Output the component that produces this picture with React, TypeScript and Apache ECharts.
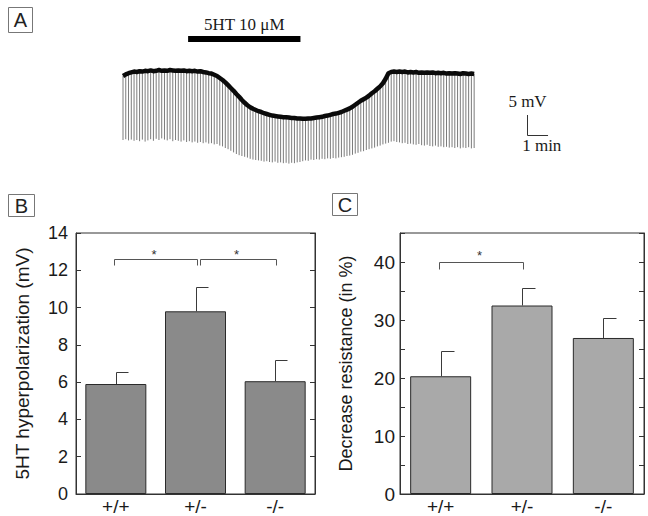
import React, { useEffect, useRef } from 'react';
import * as echarts from 'echarts';

// ---------------- Panel B / C data ----------------
const genotypes = ['+/+', '+/-', '-/-'];
const hyperpolarizationMean = [5.9, 9.8, 6.05];
const hyperpolarizationSem = [0.65, 1.3, 1.15];
const resistanceDecreaseMean = [20.3, 32.5, 26.9];
const resistanceDecreaseSem = [4.4, 3.1, 3.5];
// significance brackets: [fromCategory, toCategory, level]
const hyperpolarizationBrackets = [[0, 1, 12.6], [1, 2, 12.6]];
const resistanceBrackets = [[0, 1, 40]];
const hyperpolarizationTicks = { min: 0, max: 14, interval: 2 };
const resistanceTicks = { min: 0, max: 45, interval: 5, labelEvery: 10 };

// ---------------- Panel A trace data ----------------
const PULSE_INTERVAL_S = 7.9;
// membrane potential (mV, relative to rest) just before each current pulse
const pulseTopMV = [
  -1.0, -0.6, -0.3, -0.1, 0.1, 0.0, 0.2, 0.1, 0.3, 0.2,
  0.4, 0.2, 0.3, 0.5, 0.3, 0.4, 0.3, 0.5, 0.4, 0.3,
  0.4, 0.3, 0.4, 0.2, 0.3, 0.2, 0.3, 0.1, 0.2, 0.0,
  -0.1, -0.3, -0.4, -0.7, -1.0, -1.5, -2.0, -2.6, -3.3, -4.0,
  -4.7, -5.5, -6.2, -7.0, -7.7, -8.3, -8.8, -9.2, -9.5, -9.8,
  -10.0, -10.3, -10.5, -10.7, -10.9, -11.0, -11.1, -11.2, -11.3, -11.3,
  -11.4, -11.5, -11.5, -11.6, -11.6, -11.7, -11.7, -11.6, -11.6, -11.5,
  -11.4, -11.3, -11.2, -11.0, -10.9, -10.7, -10.5, -10.4, -10.2, -10.0,
  -9.7, -9.4, -9.1, -8.7, -8.2, -7.7, -7.2, -6.8, -6.4, -5.9,
  -5.3, -4.8, -4.2, -3.6, -2.8, -1.7, -0.3, 0.0, 0.1, 0.0,
  0.1, 0.0, 0.1, -0.1, 0.0, -0.1, 0.0, -0.2, -0.1, -0.2,
  -0.1, -0.2, -0.1, -0.3, -0.2, -0.3, -0.2, -0.4, -0.3, -0.4,
  -0.3, -0.4, -0.5, -0.3, -0.4, -0.5, -0.4, -0.5,
];
// peak of each hyperpolarizing pulse (mV, relative to rest)
const pulseBottomMV = [
  -17.0, -16.8, -17.1, -16.9, -17.2, -17.0, -17.3, -16.9, -17.4, -17.1,
  -16.8, -17.2, -16.7, -17.0, -16.6, -16.9, -17.1, -16.8, -17.3, -17.0,
  -17.2, -17.4, -17.1, -17.5, -17.3, -17.6, -17.4, -17.7, -17.5, -17.8,
  -17.6, -17.9, -17.8, -18.1, -18.0, -18.4, -18.6, -19.0, -19.3, -19.7,
  -20.1, -20.5, -20.8, -21.0, -21.2, -21.4, -21.7, -21.9, -22.0, -22.1,
  -22.2, -22.4, -22.3, -22.5, -22.6, -22.4, -22.7, -22.6, -22.8, -22.7,
  -22.9, -22.7, -22.8, -22.6, -22.5, -22.3, -22.1, -22.2, -21.9, -22.0,
  -21.8, -21.9, -21.7, -21.8, -21.6, -21.7, -21.5, -21.6, -21.4, -21.3,
  -21.2, -21.0, -20.9, -20.7, -20.4, -20.2, -19.9, -19.8, -19.5, -19.3,
  -19.1, -18.9, -18.6, -18.4, -18.1, -17.9, -17.7, -17.4, -17.3, -17.5,
  -17.6, -17.8, -17.7, -18.0, -17.9, -18.1, -18.2, -18.0, -18.3, -18.4,
  -18.2, -18.5, -18.6, -18.4, -18.7, -18.6, -18.8, -18.7, -18.9, -18.8,
  -19.0, -18.8, -19.1, -18.9, -19.0, -18.8, -19.1, -19.0,
];
const drugWindowMin = [3.1, 8.45];
const drugLabel = '5HT 10 \u03bcM';
const scaleBarMV = 5;
const scaleBarMin = 1;

// ---------------- layout / style constants ----------------
const SERIF = "'Liberation Serif', 'DejaVu Serif', serif";
const SANS = "'Liberation Sans', Arial, sans-serif";
const DRUG_BAR_LEVEL_MV = 8.25;
const SCALE_BAR_ORIGIN = [19.24, -15.75];
const INK = '#1a1a1a';
const FRAME = '#333333';

function txt(text: string, x: number, y: number, size: number, family: string, align: string, valign: string, fill = INK) {
  return {
    type: 'text',
    style: {
      text, x, y, fill,
      font: `${size}px ${family}`,
      fontSize: size, fontFamily: family,
      align, textAlign: align, verticalAlign: valign, textVerticalAlign: valign,
    },
  };
}

function renderSpike(_p: any, api: any) {
  const t = api.value(0);
  const a = api.coord([t, api.value(1)]);
  const b = api.coord([t, api.value(2)]);
  return {
    type: 'line',
    shape: { x1: a[0], y1: a[1], x2: a[0], y2: b[1] },
    style: { stroke: '#7c7c7c', lineWidth: 1 },
  };
}

function renderDrug(_p: any, api: any) {
  const a = api.coord([api.value(0), DRUG_BAR_LEVEL_MV]);
  const b = api.coord([api.value(1), DRUG_BAR_LEVEL_MV]);
  return {
    type: 'group',
    children: [
      { type: 'rect', shape: { x: a[0], y: a[1] - 3, width: b[0] - a[0], height: 6 }, style: { fill: '#000' } },
      txt(drugLabel, (a[0] + b[0]) / 2, a[1] - 6, 17, SERIF, 'center', 'bottom'),
    ],
  };
}

function renderScale(_p: any, api: any) {
  const t0 = api.value(0);
  const v0 = api.value(1);
  const top = api.coord([t0, v0 + scaleBarMV]);
  const corner = api.coord([t0, v0]);
  const right = api.coord([t0 + scaleBarMin, v0]);
  const cx = Math.round(corner[0]) + 0.5;
  const cy = Math.round(corner[1]) + 0.5;
  return {
    type: 'group',
    children: [
      {
        type: 'polyline',
        shape: { points: [[cx, top[1]], [cx, cy], [right[0], cy]] },
        style: { stroke: FRAME, lineWidth: 1, fill: null },
      },
      txt(`${scaleBarMV} mV`, cx, top[1] - 5, 17, SERIF, 'center', 'bottom'),
      txt(`${scaleBarMin} min`, (cx + right[0]) / 2 + 4, cy + 1, 17, SERIF, 'center', 'top'),
    ],
  };
}

function makeErrorRender(capPx: number) {
  return (_p: any, api: any) => {
    const i = api.value(0);
    const base = api.coord([i, api.value(1)]);
    const top = api.coord([i, api.value(2)]);
    const x = Math.round(base[0]) + 0.5;
    const yTop = Math.round(top[1]) + 0.5;
    return {
      type: 'group',
      children: [
        { type: 'line', shape: { x1: x, y1: base[1], x2: x, y2: yTop }, style: { stroke: '#3a3a3a', lineWidth: 1 } },
        { type: 'line', shape: { x1: x, y1: yTop, x2: x + capPx, y2: yTop }, style: { stroke: '#3a3a3a', lineWidth: 1 } },
      ],
    };
  };
}

function makeBracketRender(dropPx: number, starLift: number) {
  return (_p: any, api: any) => {
    const from = api.value(0);
    const to = api.value(1);
    const lvl = api.value(2);
    const a = api.coord([from, lvl]);
    const b = api.coord([to, lvl]);
    const x0 = Math.round(a[0] - 2 + (from > 0 ? 6.5 : 0)) + 0.5;
    const x1 = Math.round(b[0] + 1) + 0.5;
    const y = Math.round(a[1]) + 0.5;
    return {
      type: 'group',
      children: [
        {
          type: 'polyline',
          shape: { points: [[x0, y + dropPx], [x0, y], [x1, y], [x1, y + dropPx]] },
          style: { stroke: '#555', lineWidth: 1, fill: null },
        },
        txt('*', (x0 + x1) / 2 - 2, y - starLift, 13, SANS, 'center', 'middle', '#333'),
      ],
    };
  };
}

function valueAxis(grid: number, ticks: any, opts: any) {
  return {
    gridIndex: grid,
    type: 'value',
    min: ticks.min,
    max: ticks.max,
    interval: ticks.interval,
    splitLine: { show: false },
    axisLine: { show: true, lineStyle: { color: FRAME, width: 1 } },
    axisTick: { show: true, inside: true, length: 5, lineStyle: { color: FRAME, width: 1 } },
    ...opts,
  };
}

function categoryAxis(grid: number) {
  return {
    gridIndex: grid,
    type: 'category',
    data: genotypes,
    axisTick: { show: false },
    axisLine: { show: true, lineStyle: { color: FRAME, width: 1 } },
    axisLabel: { fontSize: 19, fontFamily: SANS, color: INK, margin: 3 },
  };
}

function panelLabel(letter: string, x: number, y: number, w: number, h: number) {
  return [
    {
      type: 'rect',
      shape: { x: x + 0.5, y: y + 0.5, width: w, height: h },
      style: { fill: 'none', stroke: '#777', lineWidth: 1 },
      silent: true,
    },
    {
      type: 'text',
      x: x + w / 2 + 0.5,
      y: y + h / 2 + 0.5,
      style: {
        text: letter, fill: '#222', font: `20px ${SANS}`, fontSize: 20, fontFamily: SANS,
        align: 'center', textAlign: 'center', verticalAlign: 'middle', textVerticalAlign: 'middle',
      },
      silent: true,
    },
  ];
}

export default function App() {
  const ref = useRef<HTMLDivElement>(null);

  useEffect(() => {
    if (!ref.current) return;
    const chart = echarts.init(ref.current, null, { renderer: 'svg' });
    const pulseData = pulseTopMV.map((v, i) => [(i * PULSE_INTERVAL_S) / 60, v, pulseBottomMV[i]]);
    const traceData = pulseTopMV.map((v, i) => [(i * PULSE_INTERVAL_S) / 60, v]);

    const option: any = {
      animation: false,
      backgroundColor: '#ffffff',
      grid: [
        { left: 123, top: 20, width: 462, height: 152, show: false },
        { left: 76, top: 233, width: 239, height: 266, show: true, borderColor: FRAME, borderWidth: 1, backgroundColor: 'transparent' },
        { left: 400, top: 233, width: 244, height: 266, show: true, borderColor: FRAME, borderWidth: 1, backgroundColor: 'transparent' },
      ],
      xAxis: [
        { gridIndex: 0, type: 'value', min: 0, max: 22, show: false },
        categoryAxis(1),
        categoryAxis(2),
      ],
      yAxis: [
        { gridIndex: 0, type: 'value', min: -25, max: 13, show: false },
        valueAxis(1, hyperpolarizationTicks, {
          axisLabel: { fontSize: 18, fontFamily: SANS, color: INK, margin: 8 },
          name: '5HT hyperpolarization (mV)',
          nameLocation: 'middle',
          nameGap: 44,
          nameTextStyle: { fontSize: 19, fontFamily: SANS, color: INK },
        }),
        valueAxis(1, hyperpolarizationTicks, { position: 'right', axisLabel: { show: false } }),
        valueAxis(2, resistanceTicks, {
          axisLabel: {
            fontSize: 19, fontFamily: SANS, color: INK, margin: 5,
            formatter: (v: number) => (v % resistanceTicks.labelEvery === 0 ? String(v) : ''),
          },
          name: 'Decrease resistance (in %)',
          nameLocation: 'middle',
          nameGap: 45,
          nameTextStyle: { fontSize: 18, fontFamily: SANS, color: INK },
        }),
        valueAxis(2, resistanceTicks, { position: 'right', axisLabel: { show: false } }),
      ],
      graphic: {
        elements: [
          ...panelLabel('A', 8, 7, 24, 25),
          ...panelLabel('B', 8, 194, 26, 22),
          ...panelLabel('C', 332, 193, 25, 22),
        ],
      },
      series: [
        {
          type: 'custom', name: 'current pulses', xAxisIndex: 0, yAxisIndex: 0,
          dimensions: ['t', 'top', 'bottom'], encode: { x: 0, y: [1, 2] },
          renderItem: renderSpike, data: pulseData, z: 1, silent: true,
        },
        {
          type: 'line', name: 'membrane potential', xAxisIndex: 0, yAxisIndex: 0,
          data: traceData, symbol: 'none', z: 3, silent: true,
          lineStyle: { color: '#0a0a0a', width: 4.5, join: 'round' },
        },
        {
          type: 'custom', name: 'drug', xAxisIndex: 0, yAxisIndex: 0,
          encode: { x: [0, 1] }, renderItem: renderDrug, data: [drugWindowMin], z: 4, silent: true,
        },
        {
          type: 'custom', name: 'scale', xAxisIndex: 0, yAxisIndex: 0,
          encode: { x: 0, y: 1 }, renderItem: renderScale, data: [SCALE_BAR_ORIGIN], z: 4, silent: true,
        },
        {
          type: 'bar', name: 'hyperpolarization', xAxisIndex: 1, yAxisIndex: 1,
          data: hyperpolarizationMean, barWidth: 61, silent: true,
          itemStyle: { color: '#8a8a8a', borderColor: '#2a2a2a', borderWidth: 1 },
        },
        {
          type: 'custom', name: 'hyperpolarization sem', xAxisIndex: 1, yAxisIndex: 1,
          encode: { x: 0, y: [1, 2] }, renderItem: makeErrorRender(12), z: 5, silent: true,
          data: hyperpolarizationMean.map((m, i) => [i, m, m + hyperpolarizationSem[i]]),
        },
        {
          type: 'custom', name: 'hyperpolarization significance', xAxisIndex: 1, yAxisIndex: 1,
          encode: { x: [0, 1], y: 2 }, renderItem: makeBracketRender(6, 5), z: 5, silent: true,
          data: hyperpolarizationBrackets,
        },
        {
          type: 'bar', name: 'resistance', xAxisIndex: 2, yAxisIndex: 3,
          data: resistanceDecreaseMean, barWidth: 61, silent: true,
          itemStyle: { color: '#a9a9a9', borderColor: '#2a2a2a', borderWidth: 1 },
        },
        {
          type: 'custom', name: 'resistance sem', xAxisIndex: 2, yAxisIndex: 3,
          encode: { x: 0, y: [1, 2] }, renderItem: makeErrorRender(13), z: 5, silent: true,
          data: resistanceDecreaseMean.map((m, i) => [i, m, m + resistanceDecreaseSem[i]]),
        },
        {
          type: 'custom', name: 'resistance significance', xAxisIndex: 2, yAxisIndex: 3,
          encode: { x: [0, 1], y: 2 }, renderItem: makeBracketRender(7, 7), z: 5, silent: true,
          data: resistanceBrackets,
        },
      ],
    };
    chart.setOption(option);
    return () => chart.dispose();
  }, []);

  return (
    <div
      ref={ref}
      style={{ position: 'absolute', left: 0, top: 0, width: 648, height: 516, background: '#fff' }}
    />
  );
}
